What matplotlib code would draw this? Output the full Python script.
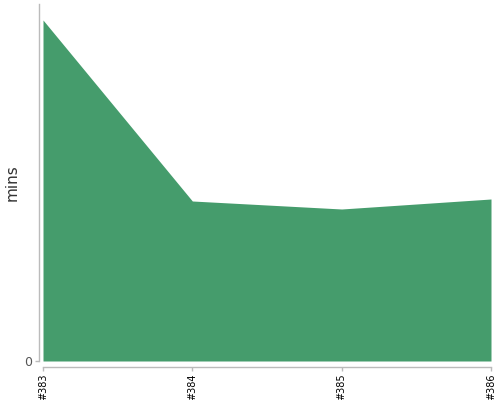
import matplotlib
matplotlib.use("Agg")
import matplotlib.pyplot as plt

builds = ["#383", "#384", "#385", "#386"]
mins = [34.1, 16.0, 15.2, 16.2]

fig = plt.figure(figsize=(5, 4), dpi=100)
ax = fig.add_axes([0.086, 0.0975, 0.896, 0.8925])

# spine offsets first: set_position resets the ticks
for side in ["top", "right"]:
    ax.spines[side].set_visible(False)
ax.spines["left"].set_position(("outward", 3))
ax.spines["bottom"].set_position(("outward", 4))
for side in ["left", "bottom"]:
    ax.spines[side].set_color("#bbbbbb")
    ax.spines[side].set_linewidth(1)

x = list(range(len(builds)))
ax.fill_between(x, mins, 0, color="#459c6c", linewidth=0)

ax.set_xlim(0, len(builds) - 1)
ax.set_ylim(0, 35.7)
ax.set_xticks(x)
ax.set_xticklabels(builds, rotation=90, fontsize=7, color="#000000")
ax.set_yticks([0])
ax.set_yticklabels(["0"], fontsize=9, color="#555555")
ax.set_ylabel("mins", fontsize=11, color="#333333")
ax.yaxis.set_label_coords(-0.052, 0.5)
ax.tick_params(axis="both", length=3, color="#bbbbbb", width=1, pad=2)

fig.savefig("out.png", dpi=100)
